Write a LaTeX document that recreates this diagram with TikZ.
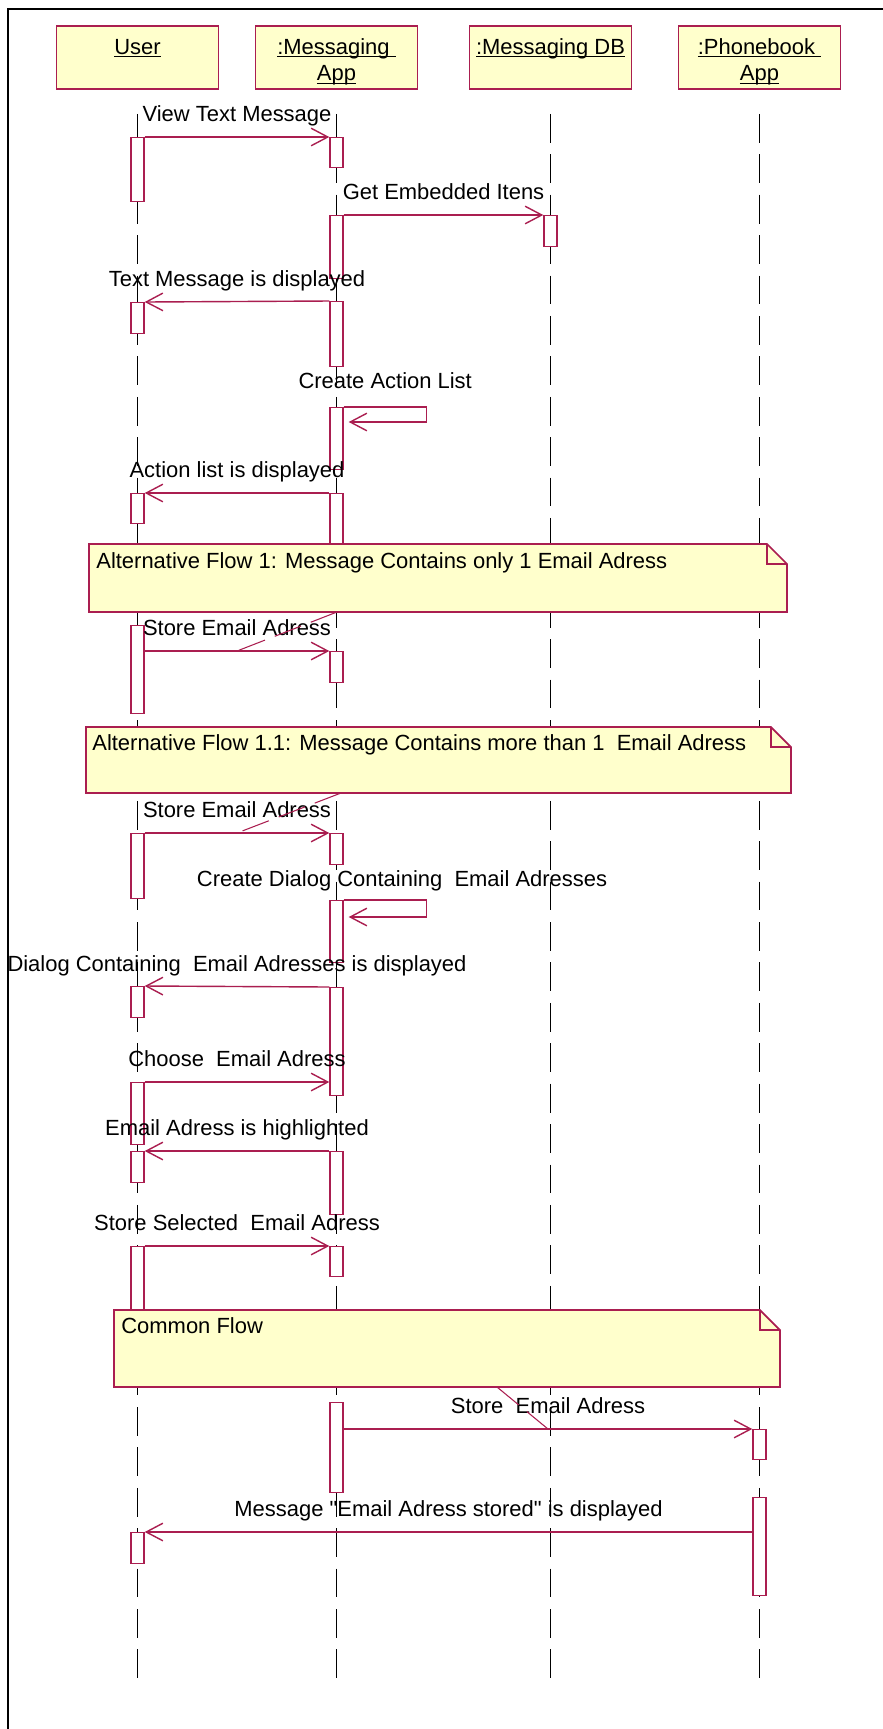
\documentclass[tikz,border=0pt]{standalone}
\usepackage{fontspec}
\setmainfont{Liberation Sans}
\usetikzlibrary{arrows.meta,calc}
\definecolor{rose}{RGB}{170,30,80}
\definecolor{noteyellow}{RGB}{255,255,204}
\newcommand{\headul}[1]{\underline{\smash{#1}}\vphantom{#1}}
\newcommand{\headstrut}{\rule{0pt}{14pt}}
\tikzset{
  headbox/.style={draw=rose,fill=noteyellow,line width=1pt,minimum width=3.24cm,minimum height=1.26cm,align=center,inner sep=0pt},
  life/.style={draw=black,line width=0.75pt,dash pattern=on 16.4pt off 6.6pt},
  act/.style={draw=rose,fill=white,line width=0.8pt,minimum width=0.26cm,minimum height=#1*0.02cm,inner sep=0pt,anchor=north},
  msg/.style={draw=rose,line width=0.8pt,-{Straight Barb[length=9.5pt,width=10pt]}},
  lbl/.style={anchor=base,inner sep=0pt,yshift=8.8pt},
  notebox/.style={draw=rose,fill=noteyellow,line width=1pt},
  fold/.style={draw=rose,line width=1pt},
  notetext/.style={anchor=base west,inner sep=0pt},
  tether/.style={draw=rose,line width=0.6pt,dash pattern=on 16pt off 6pt},
}
\begin{document}
\begin{tikzpicture}[x=0.02cm,y=-0.02cm,every node/.append style={font=\fontsize{12.5pt}{15.3pt}\selectfont}]
  \useasboundingbox (0,0) rectangle (883,1729);
  \draw[line width=1.6pt] (883,9) -| (8,1729);
  \node[headbox] (user) at (137.5,57.5) {\headstrut\headul{User}\\\vphantom{App}};
  \node[headbox] (app) at (336.5,57.5) {\headstrut\headul{:Messaging\ }\\\headul{App}};
  \node[headbox] (db) at (550.5,57.5) {\headstrut\headul{:Messaging DB}\\\vphantom{App}};
  \node[headbox] (phone) at (759.5,57.5) {\headstrut\headul{:Phonebook\ }\\\headul{App}};
  \coordinate (user end) at (137.5,1684);
  \coordinate (app end) at (336.5,1684);
  \coordinate (db end) at (550.5,1684);
  \coordinate (phone end) at (759.5,1684);
  \foreach \h in {user,app,db,phone}{\draw[life] (\h.south) ++(0,24) -- (\h\space end);}
  \node[act=64] (u1) at (137.5,137) {};
  \node[act=31] (u2) at (137.5,302) {};
  \node[act=30] (u3) at (137.5,493) {};
  \node[act=88] (u4) at (137.5,625) {};
  \node[act=65] (u5) at (137.5,833) {};
  \node[act=31] (u6) at (137.5,986) {};
  \node[act=62] (u7) at (137.5,1082) {};
  \node[act=31] (u8) at (137.5,1151) {};
  \node[act=84] (u9) at (137.5,1246) {};
  \node[act=31] (u10) at (137.5,1532) {};
  \node[act=30] (a1) at (336.5,137) {};
  \node[act=63] (a2) at (336.5,215) {};
  \node[act=65] (a3) at (336.5,301) {};
  \node[act=62] (a4) at (336.5,407) {};
  \node[act=70] (a5) at (336.5,493) {};
  \node[act=31] (a6) at (336.5,651) {};
  \node[act=31] (a7) at (336.5,833) {};
  \node[act=62] (a8) at (336.5,900) {};
  \node[act=108] (a9) at (336.5,987) {};
  \node[act=63] (a10) at (336.5,1151) {};
  \node[act=30] (a11) at (336.5,1246) {};
  \node[act=90] (a12) at (336.5,1402) {};
  \node[act=31] (d1) at (550.5,215) {};
  \node[act=30] (p1) at (759.5,1429) {};
  \node[act=98] (p2) at (759.5,1497) {};
  \draw[notebox] (89,544) -- (767,544) -- (787,564) -- (787,612) -- (89,612) -- cycle;
  \draw[fold] (767,544) |- (787,564);
  \node[notetext] (alt1) at (96,568) {Alternative Flow 1: Message Contains only 1 Email Adress};
  \coordinate (alt1 foot) at (337,612);
  \draw[notebox] (86,727) -- (771,727) -- (791,747) -- (791,793) -- (86,793) -- cycle;
  \draw[fold] (771,727) |- (791,747);
  \node[notetext] (alt11) at (92,750) {Alternative Flow 1.1: Message Contains more than 1~ Email Adress};
  \coordinate (alt11 foot) at (341,793);
  \draw[notebox] (114,1310) -- (760,1310) -- (780,1330) -- (780,1387) -- (114,1387) -- cycle;
  \draw[fold] (760,1310) |- (780,1330);
  \node[notetext] (common) at (121,1333) {Common Flow};
  \coordinate (common foot) at (497,1387);
  \draw[msg] (u1.north east) -- node[lbl] {View Text Message} (a1.north west);
  \draw[msg] (a2.north east) -- node[lbl] {Get Embedded Itens} (d1.north west);
  \draw[msg] (a3.north west) -- node[lbl] {Text Message is displayed} (u2.north east);
  \draw[msg] (a4.north east) -- node[lbl,yshift=1.7pt] {Create Action List} ++(83,0) -- ++(0,15) -- ++(-78,0);
  \draw[msg] (a5.north west) -- node[lbl] {Action list is displayed} (u3.north east);
  \draw[msg] (u4.east |- a6.north) -- node[lbl] {Store Email Adress} coordinate (store1) (a6.north west);
  \draw[msg] (u5.north east) -- node[lbl] {Store Email Adress} coordinate (store2) (a7.north west);
  \draw[msg] (a8.north east) -- node[lbl,xshift=9.6pt,yshift=-1pt] {Create Dialog Containing~ Email Adresses} ++(83,0) -- ++(0,17) -- ++(-78,0);
  \draw[msg] (a9.north west) -- node[lbl] {Dialog Containing~ Email Adresses is displayed} (u6.north east);
  \draw[msg] (u7.north east) -- node[lbl] {Choose~ Email Adress} (a9.west |- u7.north);
  \draw[msg] (a10.north west) -- node[lbl] {Email Adress is highlighted} (u8.north east);
  \draw[msg] (u9.north east) -- node[lbl] {Store Selected~ Email Adress} (a11.north west);
  \draw[msg] (a12.east |- p1.north) -- node[lbl] {Store~ Email Adress} coordinate (store3) (p1.north west);
  \draw[msg] (p2.west |- u10.north) -- node[lbl] {Message \textquotedbl Email Adress stored\textquotedbl\ is displayed} (u10.north east);
  \draw[tether] (alt1 foot) -- (store1);
  \draw[tether] (alt11 foot) -- (store2);
  \draw[tether] (common foot) -- (store3);
\end{tikzpicture}
\end{document}
